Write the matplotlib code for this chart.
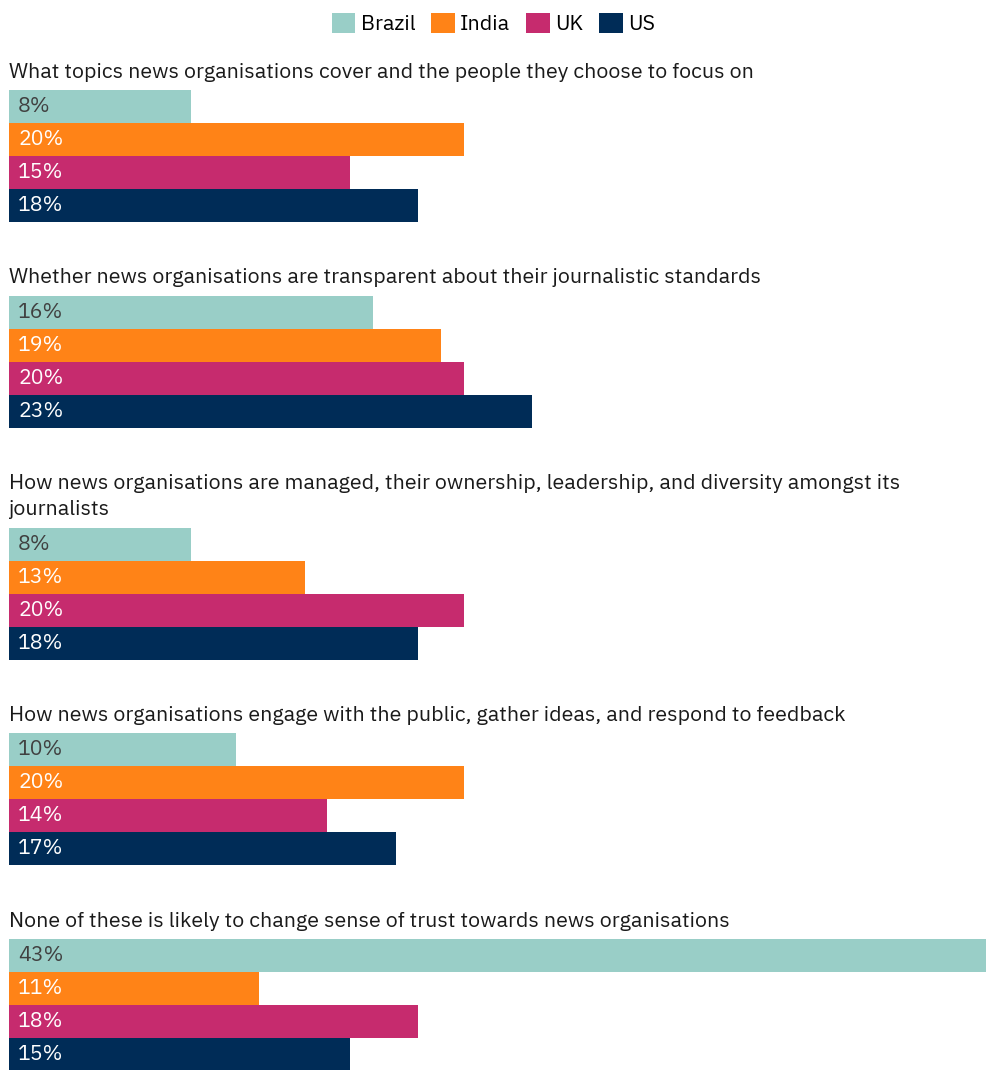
import matplotlib
matplotlib.use('Agg')
from matplotlib import pyplot as plt
from matplotlib.patches import Patch

countries = ['Brazil', 'India', 'UK', 'US']
colors = ['#99cec7', '#ff8317', '#c62b6e', '#002c57']
label_colors = ['#404040', 'white', 'white', 'white']

topics = [
	'What topics news organisations cover and the people they choose to focus on',
	'Whether news organisations are transparent about their journalistic standards',
	'How news organisations are managed, their ownership, leadership, and diversity amongst its\njournalists',
	'How news organisations engage with the public, gather ideas, and respond to feedback',
	'None of these is likely to change sense of trust towards news organisations',
]

brazil = [8, 16, 8, 10, 43]
india = [20, 19, 13, 20, 11]
uk = [15, 20, 20, 14, 18]
us = [18, 23, 18, 17, 15]
values = [brazil, india, uk, us]

plt.rcParams['font.family'] = ['IBM Plex Sans', 'Noto Sans', 'DejaVu Sans']

W, H = 987, 1070
fig = plt.figure(figsize=(W / 100, H / 100), dpi=100)
# x in percent, y in pixel rows from the top
ax = fig.add_axes([9 / W, 0, 1 - 9 / W, 1])
ax.set_xlim(0, 43)
ax.set_ylim(H, 0)
ax.axis('off')

bar_h = 33
line_h = 26
y = 72
for i, topic in enumerate(topics):
	lines = topic.split('\n')
	for k, line in enumerate(lines):
		ax.text(0, y + k * line_h, line, fontsize=15.4, color='#1a1a1a',
			va='center', ha='left')
	top = y + (len(lines) - 1) * line_h + 18
	for j in range(len(countries)):
		yc = top + bar_h * j + bar_h / 2
		ax.barh(yc, values[j][i], height=bar_h, color=colors[j], linewidth=0)
		ax.annotate(f'{values[j][i]}%', (0, yc), xytext=(6.5, 0), textcoords='offset points',
			fontsize=15.4, color=label_colors[j], va='center', ha='left')
	y = top + 4 * bar_h + 55.8

handles = [Patch(facecolor=c, label=n) for c, n in zip(colors, countries)]
fig.legend(handles=handles, loc='upper center', bbox_to_anchor=(0.5, 1.0), ncol=4,
	frameon=False, fontsize=15.4, handlelength=1.1, handleheight=1.1,
	handletextpad=0.25, columnspacing=0.75, borderaxespad=0.2)

fig.savefig('out.png', dpi=100)
